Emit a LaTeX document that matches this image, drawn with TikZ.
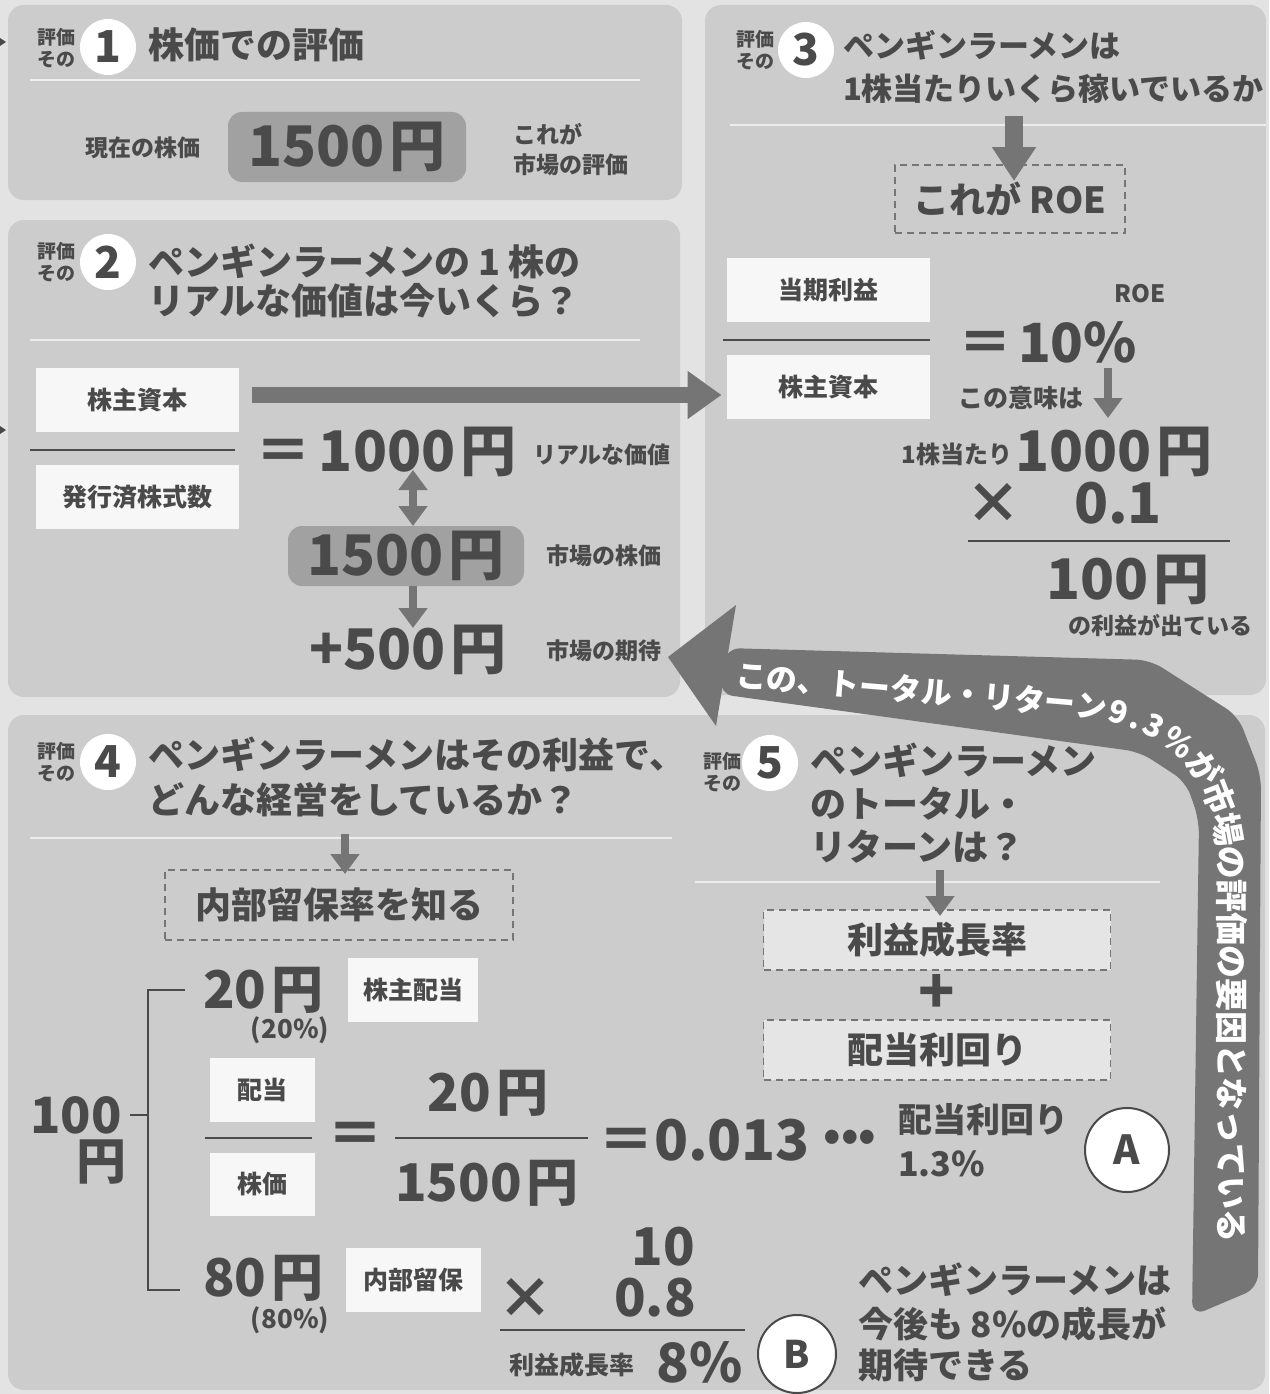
\documentclass[tikz,border=0pt]{standalone}
\usepackage{fontspec}
\setmainfont{Noto Sans CJK JP}
\usetikzlibrary{arrows.meta,decorations.text,calc}
\definecolor{pagec}{gray}{0.89}
\definecolor{panelc}{gray}{0.80}
\definecolor{txt}{gray}{0.29}
\definecolor{arr}{gray}{0.46}
\definecolor{pill}{gray}{0.63}
\definecolor{wboxc}{gray}{0.97}
\definecolor{divc}{gray}{0.93}
\newcommand\fsz[1]{\fontsize{#1}{#1}\selectfont\bfseries}
\begin{document}
\begin{tikzpicture}[x=1pt,y=-1pt,
  every node/.style={text=txt, inner sep=0pt, outer sep=0pt},
  panel/.style={fill=panelc, rounded corners=16pt},
  divider/.style={draw=divc, line width=2pt},
  hyoka/.style={font=\fsz{19}, align=left},
  numc/.style={circle, fill=white, minimum size=56pt, font=\fsz{44}},
  title/.style={anchor=west, font=\fsz{36}, align=left},
  wbox/.style={fill=wboxc, minimum width=203pt, minimum height=64pt, font=\fsz{25}},
  dbox/.style={draw=arr, dash pattern=on 7pt off 5pt, line width=1.6pt},
  pillbox/.style={fill=pill, rounded corners=14pt},
  lbl/.style={font=\fsz{23}},
  big/.style={font=\fsz{56}},
  fline/.style={draw=txt, line width=2.5pt},
  garrow/.style={draw=arr, line width=9pt, -{Triangle[length=22pt,width=30pt]}},
  circlab/.style={circle, draw=txt, line width=2pt, fill=white},
]
\useasboundingbox (0,0) rectangle (1269,1394);
\fill[pagec] (0,0) rectangle (1269,1394);

% panels
\fill[panel] (8,5) rectangle (682,200);
\fill[panel] (8,220) rectangle (680,697);
\fill[panel] (705,5) rectangle (1266,695);
\fill[panel] (8,715) rectangle (1265,1390);

% tiny marks at left edge
\fill[txt] (0,38) -- (6,42) -- (0,46) -- cycle;
\fill[txt] (0,426) -- (6,430) -- (0,434) -- cycle;

% ---------- panel 1
\node[hyoka] (h1) at (56,48) {評価\\[3pt]その};
\node[numc] (n1) at (108,47) {1};
\node[title] (t1) at (148,45) {株価での評価};
\draw[divider] (30,80) -- (640,80);
\node[lbl] (cur) at (143,148) {現在の株価};
\node[pillbox, big, minimum width=238pt, minimum height=70pt] (p1) at (347,147) {1500\hspace{5pt}円};
\node[lbl, anchor=west, align=left] (mk1) at (513,150) {これが\\[7pt]市場の評価};

% ---------- panel 3
\node[hyoka] (h3) at (755,50) {評価\\[3pt]その};
\node[numc] (n3) at (806,50) {3};
\node[title, font=\fsz{31}] (t3) at (843,67) {ペンギンラーメンは\\[12pt]1株当たりいくら稼いでいるか};
\draw[divider] (730,125) -- (1266,125);
\node[dbox, minimum width=230pt, minimum height=68pt, font=\fsz{36}] (roe) at (1010,199) {これが ROE};
\coordinate (a3s) at (1014,116);
\draw[draw=arr, line width=18pt, -{Triangle[length=34pt,width=42pt]}] (a3s) -- ([yshift=-16pt]roe.north -| a3s);
\node[wbox] (pq) at (828,290) {当期利益};
\draw[fline] (723,340) -- (930,340);
\node[wbox] (pe) at (828,387) {株主資本};
\node[font=\fsz{24}] (roel) at (1140,294) {ROE};
\node[font=\fsz{54}, anchor=west] (eq3) at (958,342) {＝\hspace{6pt}10\%};
\node[font=\fsz{25}, anchor=west] (imi) at (958,398) {この意味は};
\coordinate (a3b) at (1108,368);
\coordinate (a3c) at (1108,418);
\draw[garrow, line width=8pt, -{Triangle[length=20pt,width=28pt]}] (a3b) -- (a3c);
\node[font=\fsz{24}, anchor=east] (per) at (1012,454) {1株当たり};
\node[big, anchor=west] (k1000) at (1015,452) {1000\hspace{5pt}円};
\node[big] (times1) at (993,503) {×};
\node[big] (p01) at (1118,503) {0.1};
\draw[fline] (968,541) -- (1230,541);
\node[big] (h100) at (1128,580) {100\hspace{5pt}円};
\node[lbl] (rieki) at (1160,625) {の利益が出ている};

% ---------- panel 2
\node[hyoka] (h2) at (56,262) {評価\\[3pt]その};
\node[numc] (n2) at (108,262) {2};
\node[title] (t2) at (148,281) {ペンギンラーメンの 1 株の\\[3pt]リアルな価値は今いくら？};
\draw[divider] (30,340) -- (640,340);
\node[wbox] (b2t) at (137,400) {株主資本};
\draw[fline] (30,450) -- (235,450);
\node[wbox] (b2b) at (137,497) {発行済株式数};
\coordinate (a2s) at (252,395);
\draw[draw=arr, line width=16pt, -{Triangle[length=34pt,width=46pt]}] (a2s) -- ([xshift=-5pt]a2s -| pe.west);
\node[big, anchor=west] (eq2) at (255,452) {＝\hspace{8pt}1000\hspace{5pt}円};
\node[lbl, anchor=west] (real) at (533,455) {リアルな価値};
\node[pillbox, big, minimum width=236pt, minimum height=60pt] (p2) at (406,556) {1500\hspace{5pt}円};
\coordinate (d2a) at (413,470);
\draw[garrow, line width=8pt, {Triangle[length=20pt,width=28pt]}-{Triangle[length=20pt,width=28pt]}] (d2a) -- (p2.north -| d2a);
\node[lbl, anchor=west] (mkt) at (546,556) {市場の株価};
\coordinate (d2b) at (413,628);
\draw[garrow, line width=8pt, -{Triangle[length=20pt,width=28pt]}] (p2.south -| d2a) -- (d2b);
\node[big] (p500) at (408,650) {+500\hspace{5pt}円};
\node[lbl, anchor=west] (exp) at (546,651) {市場の期待};

% ---------- panel 4
\node[hyoka] (h4) at (56,762) {評価\\[3pt]その};
\node[numc] (n4) at (108,762) {4};
\node[title] (t4) at (148,777) {ペンギンラーメンはその利益で、\\[9pt]どんな経営をしているか？};
\draw[divider] (30,838) -- (672,838);
\node[dbox, minimum width=348pt, minimum height=70pt, font=\fsz{36}] (ryuho) at (339,905) {内部留保率を知る};
\coordinate (a4) at (345,834);
\draw[garrow, line width=8pt, -{Triangle[length=20pt,width=28pt]}] (a4) -- ([yshift=-4pt]ryuho.north -| a4);
\draw[line width=2.5pt, draw=txt] (185,990) -- (148,990) -- (148,1290) -- (180,1290);
\draw[line width=2.5pt, draw=txt] (130,1115) -- (148,1115);
\node[font=\fsz{50}] (h100b) at (76,1115) {100};
\node[font=\fsz{50}] (yen100) at (101,1162) {円};
\node[font=\fsz{52}, anchor=west] (y20) at (203,990) {20\hspace{5pt}円};
\node[font=\fsz{26}] (pc20) at (290,1030) {(20\%)};
\node[wbox, minimum width=130pt] (kabu) at (413,990) {株主配当};
\node[wbox, minimum width=105pt] (hai) at (262,1090) {配当};
\draw[fline] (205,1138) -- (312,1138);
\node[wbox, minimum width=105pt, minimum height=63pt] (kabuka) at (262,1184) {株価};
\node[big] (eqa) at (355,1138) {＝};
\node[font=\fsz{52}] (n20) at (488,1093) {20\hspace{5pt}円};
\draw[fline] (395,1138) -- (588,1138);
\node[font=\fsz{52}] (n1500) at (487,1183) {1500\hspace{5pt}円};
\node[big, anchor=west] (res) at (598,1140) {＝0.013};
\node[font=\fsz{44}] (dots) at (850,1140) {•••};
\node[font=\fsz{34}, anchor=west, align=left] (rimawari) at (898,1140) {配当利回り\\[10pt]1.3\%};
\node[circlab, minimum size=84pt, font=\fsz{40}] (ca) at (1127,1150) {A};
\node[font=\fsz{52}, anchor=west] (y80) at (203,1278) {80\hspace{5pt}円};
\node[font=\fsz{26}] (pc80) at (290,1320) {(80\%)};
\node[wbox, minimum width=135pt] (naibu) at (413,1280) {内部留保};
\node[font=\fsz{52}] (n10) at (663,1247) {10};
\node[big] (tm2) at (525,1298) {×};
\node[font=\fsz{52}] (n08) at (655,1298) {0.8};
\draw[fline] (500,1330) -- (745,1330);
\node[font=\fsz{25}] (seicho) at (572,1365) {利益成長率};
\node[font=\fsz{54}] (p8) at (700,1362) {8\%};
\node[circlab, minimum size=78pt, font=\fsz{38}] (cb) at (797,1354) {B};
\node[font=\fsz{35}, anchor=west, align=left] (kitai) at (858,1322) {ペンギンラーメンは\\[9pt]今後も 8\%の成長が\\[6pt]期待できる};

% ---------- panel 5
\node[hyoka] (h5) at (722,772) {評価\\[3pt]その};
\node[numc] (n5) at (770,763) {5};
\node[title] (t5) at (810,803) {ペンギンラーメン\\[7pt]のトータル・\\[7pt]リターンは？};
\draw[divider] (695,882) -- (1160,882);
\node[dbox, fill=wboxc, fill opacity=0.6, text opacity=1, minimum width=347pt, minimum height=60pt, font=\fsz{36}] (sr) at (937,940) {利益成長率};
\coordinate (a5) at (940,870);
\draw[garrow, line width=8pt, -{Triangle[length=20pt,width=28pt]}] (a5) -- ([yshift=-6pt]sr.north -| a5);
\node[font=\fsz{60}] (plus) at (937,994) {+};
\node[dbox, fill=wboxc, fill opacity=0.6, text opacity=1, minimum width=347pt, minimum height=60pt, font=\fsz{36}] (hr) at (937,1050) {配当利回り};

% ---------- ribbon arrow
\fill[arr] (668,657) -- (736,605) -- (716,726) -- cycle;
\fill[arr, rounded corners=14pt] (726,648) -- (1150,660) -- (1238,716) -- (1261,775) -- (1258,1288)
   -- (1192,1316) -- (1199,820) -- (1186,782) -- (1140,752) -- (719,694) -- cycle;
\path[decorate, decoration={text along path, text align={left indent=6pt}, raise=-11pt,
  text={|\fsz{31}\color{white}|この、トータル・リターン{\hspace{3pt}}9{\hspace{4pt}}.{\hspace{4pt}}3{\hspace{5pt}}{\%}{\hspace{4pt}}|\fsz{33}\color{white}|が市場の評価の要因となっている}}]
  (730,675) -- (1070,704) .. controls (1185,714) and (1230,780) .. (1230,870) -- (1230,1300);
\end{tikzpicture}
\end{document}
